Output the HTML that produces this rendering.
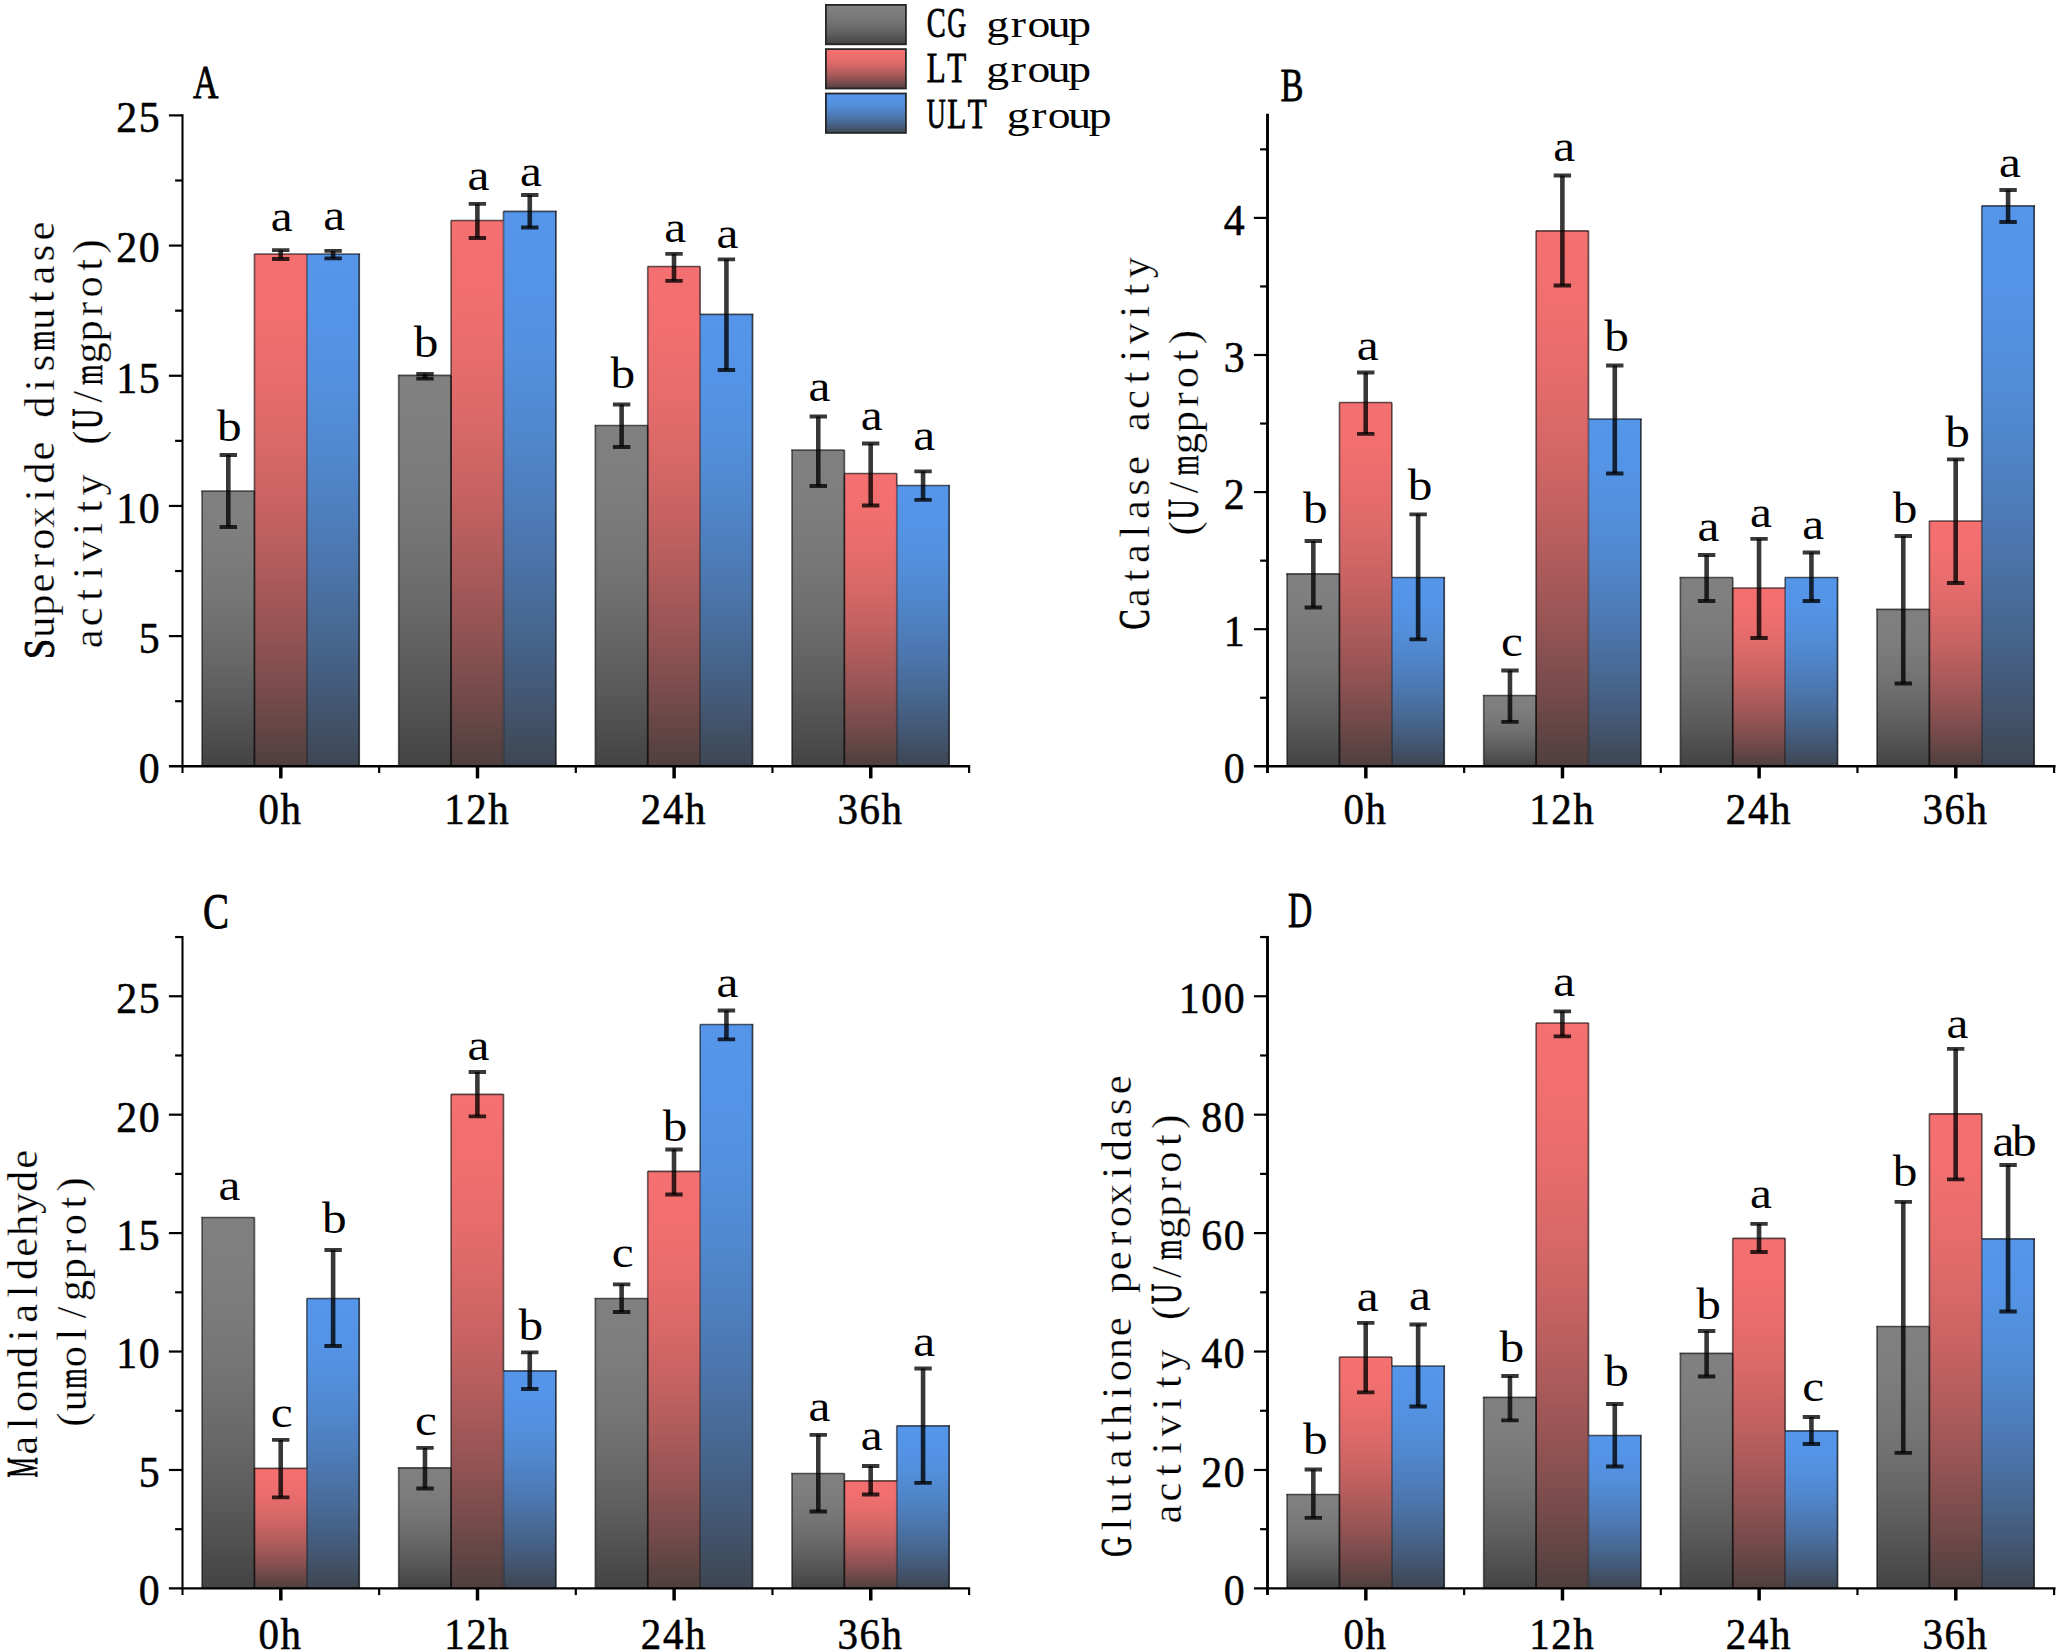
<!DOCTYPE html>
<html><head><meta charset="utf-8"><title>Antioxidant enzyme activity charts</title>
<style>html,body{margin:0;padding:0;background:#fff}svg{display:block}text{font-family:"Liberation Serif", serif;fill:#000}</style></head><body>
<svg width="2061" height="1652" viewBox="0 0 2061 1652">
<rect width="2061" height="1652" fill="#fff"/>
<defs>
<linearGradient id="Gg" x1="0" y1="0" x2="0" y2="1">
<stop offset="0" stop-color="#808080"/>
<stop offset="0.125" stop-color="#7f7f7f"/>
<stop offset="0.25" stop-color="#7b7b7b"/>
<stop offset="0.375" stop-color="#767676"/>
<stop offset="0.5" stop-color="#6f6f6f"/>
<stop offset="0.625" stop-color="#666666"/>
<stop offset="0.75" stop-color="#5c5c5c"/>
<stop offset="0.875" stop-color="#505050"/>
<stop offset="1" stop-color="#434343"/>
</linearGradient>
<linearGradient id="Gr" x1="0" y1="0" x2="0" y2="1">
<stop offset="0" stop-color="#f57070"/>
<stop offset="0.125" stop-color="#f16f6f"/>
<stop offset="0.25" stop-color="#e86c6c"/>
<stop offset="0.375" stop-color="#d96868"/>
<stop offset="0.5" stop-color="#c66262"/>
<stop offset="0.625" stop-color="#ae5b5b"/>
<stop offset="0.75" stop-color="#935353"/>
<stop offset="0.875" stop-color="#734a4a"/>
<stop offset="1" stop-color="#4f3f3f"/>
</linearGradient>
<linearGradient id="Gb" x1="0" y1="0" x2="0" y2="1">
<stop offset="0" stop-color="#5596ea"/>
<stop offset="0.125" stop-color="#5494e7"/>
<stop offset="0.25" stop-color="#5390de"/>
<stop offset="0.375" stop-color="#5189d0"/>
<stop offset="0.5" stop-color="#4e7fbf"/>
<stop offset="0.625" stop-color="#4b74a9"/>
<stop offset="0.75" stop-color="#476790"/>
<stop offset="0.875" stop-color="#435773"/>
<stop offset="1" stop-color="#3e4652"/>
</linearGradient>
</defs>
<g id="panelA">
<rect x="202.03" y="491.00" width="52.40" height="275.30" fill="url(#Gg)"/>
<rect x="254.43" y="254.00" width="52.40" height="512.30" fill="url(#Gr)"/>
<rect x="306.82" y="254.00" width="52.40" height="512.30" fill="url(#Gb)"/>
<rect x="398.68" y="375.40" width="52.40" height="390.90" fill="url(#Gg)"/>
<rect x="451.07" y="220.50" width="52.40" height="545.80" fill="url(#Gr)"/>
<rect x="503.48" y="211.30" width="52.40" height="555.00" fill="url(#Gb)"/>
<rect x="595.32" y="425.50" width="52.40" height="340.80" fill="url(#Gg)"/>
<rect x="647.72" y="266.50" width="52.40" height="499.80" fill="url(#Gr)"/>
<rect x="700.12" y="314.30" width="52.40" height="452.00" fill="url(#Gb)"/>
<rect x="791.97" y="450.00" width="52.40" height="316.30" fill="url(#Gg)"/>
<rect x="844.37" y="473.50" width="52.40" height="292.80" fill="url(#Gr)"/>
<rect x="896.77" y="485.50" width="52.40" height="280.80" fill="url(#Gb)"/>
<g stroke="#000" stroke-width="1.7" fill="none">
<path d="M201.18 491.00H254.43M254.43 254.00H306.82M306.82 254.00H360.07" stroke-opacity="0.62"/>
<path d="M202.03 491.00V766.30" stroke-opacity="0.55"/>
<path d="M359.22 254.00V766.30" stroke-opacity="0.7"/>
<path d="M254.43 491.00V766.30" stroke-opacity="0.8"/>
<path d="M254.43 254.00V491.00" stroke-opacity="0.55"/>
<path d="M306.82 254.00V766.30" stroke-opacity="0.42"/>
<path d="M397.82 375.40H451.07M451.07 220.50H503.48M503.48 211.30H556.73" stroke-opacity="0.62"/>
<path d="M398.68 375.40V766.30" stroke-opacity="0.55"/>
<path d="M555.88 211.30V766.30" stroke-opacity="0.7"/>
<path d="M451.07 375.40V766.30" stroke-opacity="0.8"/>
<path d="M451.07 220.50V375.40" stroke-opacity="0.55"/>
<path d="M503.48 220.50V766.30" stroke-opacity="0.42"/>
<path d="M503.48 211.30V220.50" stroke-opacity="0.55"/>
<path d="M594.47 425.50H647.72M647.72 266.50H700.12M700.12 314.30H753.37" stroke-opacity="0.62"/>
<path d="M595.32 425.50V766.30" stroke-opacity="0.55"/>
<path d="M752.52 314.30V766.30" stroke-opacity="0.7"/>
<path d="M647.72 425.50V766.30" stroke-opacity="0.8"/>
<path d="M647.72 266.50V425.50" stroke-opacity="0.55"/>
<path d="M700.12 314.30V766.30" stroke-opacity="0.42"/>
<path d="M700.12 266.50V314.30" stroke-opacity="0.6"/>
<path d="M791.12 450.00H844.37M844.37 473.50H896.77M896.77 485.50H950.02" stroke-opacity="0.62"/>
<path d="M791.97 450.00V766.30" stroke-opacity="0.55"/>
<path d="M949.17 485.50V766.30" stroke-opacity="0.7"/>
<path d="M844.37 473.50V766.30" stroke-opacity="0.8"/>
<path d="M844.37 450.00V473.50" stroke-opacity="0.6"/>
<path d="M896.77 485.50V766.30" stroke-opacity="0.42"/>
<path d="M896.77 473.50V485.50" stroke-opacity="0.6"/>
</g>
<g stroke="#000" stroke-opacity="0.78" fill="none">
<path d="M228.32 455.00V527.00" stroke-width="4.6"/>
<path d="M219.62 455.00h17.4M219.62 527.00h17.4" stroke-width="3.8"/>
<path d="M280.72 250.20V259.00" stroke-width="4.6"/>
<path d="M272.02 250.20h17.4M272.02 259.00h17.4" stroke-width="3.8"/>
<path d="M333.12 250.80V258.40" stroke-width="4.6"/>
<path d="M324.42 250.80h17.4M324.42 258.40h17.4" stroke-width="3.8"/>
<path d="M424.98 373.80V378.60" stroke-width="4.6"/>
<path d="M416.28 373.80h17.4M416.28 378.60h17.4" stroke-width="3.8"/>
<path d="M477.38 203.80V238.00" stroke-width="4.6"/>
<path d="M468.68 203.80h17.4M468.68 238.00h17.4" stroke-width="3.8"/>
<path d="M529.77 195.00V227.50" stroke-width="4.6"/>
<path d="M521.07 195.00h17.4M521.07 227.50h17.4" stroke-width="3.8"/>
<path d="M621.62 404.50V447.00" stroke-width="4.6"/>
<path d="M612.92 404.50h17.4M612.92 447.00h17.4" stroke-width="3.8"/>
<path d="M674.02 253.80V280.80" stroke-width="4.6"/>
<path d="M665.32 253.80h17.4M665.32 280.80h17.4" stroke-width="3.8"/>
<path d="M726.42 259.30V370.00" stroke-width="4.6"/>
<path d="M717.72 259.30h17.4M717.72 370.00h17.4" stroke-width="3.8"/>
<path d="M818.27 416.50V486.00" stroke-width="4.6"/>
<path d="M809.57 416.50h17.4M809.57 486.00h17.4" stroke-width="3.8"/>
<path d="M870.67 443.50V505.50" stroke-width="4.6"/>
<path d="M861.97 443.50h17.4M861.97 505.50h17.4" stroke-width="3.8"/>
<path d="M923.07 471.30V499.80" stroke-width="4.6"/>
<path d="M914.37 471.30h17.4M914.37 499.80h17.4" stroke-width="3.8"/>
</g>
<g stroke="#000" stroke-width="2.10" fill="none">
<path d="M182.50 114.30V773.00"/>
<path d="M168.90 766.30H970.15" stroke-width="2.50"/>
<path d="M168.90 636.12H182.50" stroke-width="2.2"/>
<path d="M168.90 505.94H182.50" stroke-width="2.2"/>
<path d="M168.90 375.76H182.50" stroke-width="2.2"/>
<path d="M168.90 245.58H182.50" stroke-width="2.2"/>
<path d="M168.90 115.40H182.50" stroke-width="2.2"/>
<path d="M175.10 701.21H182.50" stroke-width="2.2"/>
<path d="M175.10 571.03H182.50" stroke-width="2.2"/>
<path d="M175.10 440.85H182.50" stroke-width="2.2"/>
<path d="M175.10 310.67H182.50" stroke-width="2.2"/>
<path d="M175.10 180.49H182.50" stroke-width="2.2"/>
<path d="M280.82 766.30V778.40" stroke-width="3.5"/>
<path d="M379.15 766.30V773.00" stroke-width="2.2"/>
<path d="M477.48 766.30V778.40" stroke-width="3.5"/>
<path d="M575.80 766.30V773.00" stroke-width="2.2"/>
<path d="M674.12 766.30V778.40" stroke-width="3.5"/>
<path d="M772.45 766.30V773.00" stroke-width="2.2"/>
<path d="M870.77 766.30V778.40" stroke-width="3.5"/>
<path d="M969.10 766.30V773.00" stroke-width="2.2"/>
</g>
<text font-size="45" text-anchor="end" letter-spacing="1.7" stroke="#000" stroke-width="0.55" transform="translate(161.30,783.20) scale(0.93,1)">0</text>
<text font-size="45" text-anchor="end" letter-spacing="1.7" stroke="#000" stroke-width="0.55" transform="translate(161.30,653.02) scale(0.93,1)">5</text>
<text font-size="45" text-anchor="end" letter-spacing="1.7" stroke="#000" stroke-width="0.55" transform="translate(161.30,522.84) scale(0.93,1)">10</text>
<text font-size="45" text-anchor="end" letter-spacing="1.7" stroke="#000" stroke-width="0.55" transform="translate(161.30,392.66) scale(0.93,1)">15</text>
<text font-size="45" text-anchor="end" letter-spacing="1.7" stroke="#000" stroke-width="0.55" transform="translate(161.30,262.48) scale(0.93,1)">20</text>
<text font-size="45" text-anchor="end" letter-spacing="1.7" stroke="#000" stroke-width="0.55" transform="translate(161.30,132.30) scale(0.93,1)">25</text>
<text font-size="44" text-anchor="middle" letter-spacing="1.7" stroke="#000" stroke-width="0.55" transform="translate(280.62,824.25) scale(0.93,1)">0h</text>
<text font-size="44" text-anchor="middle" letter-spacing="1.7" stroke="#000" stroke-width="0.55" transform="translate(477.28,824.25) scale(0.93,1)">12h</text>
<text font-size="44" text-anchor="middle" letter-spacing="1.7" stroke="#000" stroke-width="0.55" transform="translate(673.92,824.25) scale(0.93,1)">24h</text>
<text font-size="44" text-anchor="middle" letter-spacing="1.7" stroke="#000" stroke-width="0.55" transform="translate(870.57,824.25) scale(0.93,1)">36h</text>
<text transform="translate(218.42,440.80) scale(1.12,1)" font-size="44" text-anchor="middle" x="9.8" y="0">b</text>
<text transform="translate(270.82,230.80) scale(1.12,1)" font-size="44" text-anchor="middle" x="9.8" y="0">a</text>
<text transform="translate(323.22,230.10) scale(1.12,1)" font-size="44" text-anchor="middle" x="9.8" y="0">a</text>
<text transform="translate(415.08,357.10) scale(1.12,1)" font-size="44" text-anchor="middle" x="9.8" y="0">b</text>
<text transform="translate(467.48,189.60) scale(1.12,1)" font-size="44" text-anchor="middle" x="9.8" y="0">a</text>
<text transform="translate(519.88,185.80) scale(1.12,1)" font-size="44" text-anchor="middle" x="9.8" y="0">a</text>
<text transform="translate(611.73,388.30) scale(1.12,1)" font-size="44" text-anchor="middle" x="9.8" y="0">b</text>
<text transform="translate(664.12,242.10) scale(1.12,1)" font-size="44" text-anchor="middle" x="9.8" y="0">a</text>
<text transform="translate(716.52,247.80) scale(1.12,1)" font-size="44" text-anchor="middle" x="9.8" y="0">a</text>
<text transform="translate(808.38,401.30) scale(1.12,1)" font-size="44" text-anchor="middle" x="9.8" y="0">a</text>
<text transform="translate(860.77,429.80) scale(1.12,1)" font-size="44" text-anchor="middle" x="9.8" y="0">a</text>
<text transform="translate(913.17,449.80) scale(1.12,1)" font-size="44" text-anchor="middle" x="9.8" y="0">a</text>
<text font-size="47" x="193.00" y="97.50" textLength="25.5" lengthAdjust="spacingAndGlyphs" stroke="#000" stroke-width="0.8">A</text>
<text transform="translate(53.50,660.00) rotate(-90) scale(1,1)" font-size="42.5" text-anchor="middle" x="11.0 33.0 55.0 77.0 99.0 121.0 143.0 165.0 187.0 209.0 231.0 253.0 275.0 297.0 319.0 341.0 363.0 385.0 407.0 429.0" y="0" stroke="#fff" stroke-width="0.3"><tspan font-size="44" textLength="20.2" lengthAdjust="spacingAndGlyphs" stroke="#000" stroke-width="0.90">S</tspan>uperoxide dis<tspan textLength="20.2" lengthAdjust="spacingAndGlyphs" stroke="#000" stroke-width="0.50">m</tspan>utase</text>
<text transform="translate(101.90,649.80) rotate(-90) scale(1,1)" font-size="42.5" text-anchor="middle" x="11.0 33.0 55.0 77.0 99.0 121.0 143.0 165.0 187.0 212.1 231.0 253.0 275.0 297.0 319.0 341.0 363.0 385.0 403.4" y="0" stroke="#fff" stroke-width="0.3">activity (<tspan font-size="44" textLength="20.2" lengthAdjust="spacingAndGlyphs" stroke="#000" stroke-width="0.90">U</tspan>/<tspan textLength="20.2" lengthAdjust="spacingAndGlyphs" stroke="#000" stroke-width="0.50">m</tspan>gprot)</text>
</g>
<g id="panelB">
<rect x="1287.03" y="573.80" width="52.40" height="192.50" fill="url(#Gg)"/>
<rect x="1339.43" y="402.50" width="52.40" height="363.80" fill="url(#Gr)"/>
<rect x="1391.83" y="577.50" width="52.40" height="188.80" fill="url(#Gb)"/>
<rect x="1483.67" y="695.50" width="52.40" height="70.80" fill="url(#Gg)"/>
<rect x="1536.08" y="230.80" width="52.40" height="535.50" fill="url(#Gr)"/>
<rect x="1588.47" y="419.00" width="52.40" height="347.30" fill="url(#Gb)"/>
<rect x="1680.33" y="577.50" width="52.40" height="188.80" fill="url(#Gg)"/>
<rect x="1732.73" y="588.00" width="52.40" height="178.30" fill="url(#Gr)"/>
<rect x="1785.12" y="577.50" width="52.40" height="188.80" fill="url(#Gb)"/>
<rect x="1876.98" y="609.30" width="52.40" height="157.00" fill="url(#Gg)"/>
<rect x="1929.38" y="521.00" width="52.40" height="245.30" fill="url(#Gr)"/>
<rect x="1981.78" y="205.80" width="52.40" height="560.50" fill="url(#Gb)"/>
<g stroke="#000" stroke-width="1.7" fill="none">
<path d="M1286.18 573.80H1339.43M1339.43 402.50H1391.83M1391.83 577.50H1445.08" stroke-opacity="0.62"/>
<path d="M1287.03 573.80V766.30" stroke-opacity="0.55"/>
<path d="M1444.23 577.50V766.30" stroke-opacity="0.7"/>
<path d="M1339.43 573.80V766.30" stroke-opacity="0.8"/>
<path d="M1339.43 402.50V573.80" stroke-opacity="0.55"/>
<path d="M1391.83 577.50V766.30" stroke-opacity="0.42"/>
<path d="M1391.83 402.50V577.50" stroke-opacity="0.6"/>
<path d="M1482.83 695.50H1536.08M1536.08 230.80H1588.47M1588.47 419.00H1641.72" stroke-opacity="0.62"/>
<path d="M1483.67 695.50V766.30" stroke-opacity="0.55"/>
<path d="M1640.88 419.00V766.30" stroke-opacity="0.7"/>
<path d="M1536.08 695.50V766.30" stroke-opacity="0.8"/>
<path d="M1536.08 230.80V695.50" stroke-opacity="0.55"/>
<path d="M1588.47 419.00V766.30" stroke-opacity="0.42"/>
<path d="M1588.47 230.80V419.00" stroke-opacity="0.6"/>
<path d="M1679.48 577.50H1732.73M1732.73 588.00H1785.12M1785.12 577.50H1838.38" stroke-opacity="0.62"/>
<path d="M1680.33 577.50V766.30" stroke-opacity="0.55"/>
<path d="M1837.53 577.50V766.30" stroke-opacity="0.7"/>
<path d="M1732.73 588.00V766.30" stroke-opacity="0.8"/>
<path d="M1732.73 577.50V588.00" stroke-opacity="0.6"/>
<path d="M1785.12 588.00V766.30" stroke-opacity="0.42"/>
<path d="M1785.12 577.50V588.00" stroke-opacity="0.55"/>
<path d="M1876.13 609.30H1929.38M1929.38 521.00H1981.78M1981.78 205.80H2035.03" stroke-opacity="0.62"/>
<path d="M1876.98 609.30V766.30" stroke-opacity="0.55"/>
<path d="M2034.18 205.80V766.30" stroke-opacity="0.7"/>
<path d="M1929.38 609.30V766.30" stroke-opacity="0.8"/>
<path d="M1929.38 521.00V609.30" stroke-opacity="0.55"/>
<path d="M1981.78 521.00V766.30" stroke-opacity="0.42"/>
<path d="M1981.78 205.80V521.00" stroke-opacity="0.55"/>
</g>
<g stroke="#000" stroke-opacity="0.78" fill="none">
<path d="M1313.33 541.00V607.50" stroke-width="4.6"/>
<path d="M1304.62 541.00h17.4M1304.62 607.50h17.4" stroke-width="3.8"/>
<path d="M1365.73 372.50V433.80" stroke-width="4.6"/>
<path d="M1357.03 372.50h17.4M1357.03 433.80h17.4" stroke-width="3.8"/>
<path d="M1418.13 514.30V639.30" stroke-width="4.6"/>
<path d="M1409.43 514.30h17.4M1409.43 639.30h17.4" stroke-width="3.8"/>
<path d="M1509.97 670.50V721.80" stroke-width="4.6"/>
<path d="M1501.27 670.50h17.4M1501.27 721.80h17.4" stroke-width="3.8"/>
<path d="M1562.38 175.50V285.50" stroke-width="4.6"/>
<path d="M1553.67 175.50h17.4M1553.67 285.50h17.4" stroke-width="3.8"/>
<path d="M1614.78 365.50V473.50" stroke-width="4.6"/>
<path d="M1606.08 365.50h17.4M1606.08 473.50h17.4" stroke-width="3.8"/>
<path d="M1706.62 555.00V601.00" stroke-width="4.6"/>
<path d="M1697.92 555.00h17.4M1697.92 601.00h17.4" stroke-width="3.8"/>
<path d="M1759.03 538.80V638.00" stroke-width="4.6"/>
<path d="M1750.33 538.80h17.4M1750.33 638.00h17.4" stroke-width="3.8"/>
<path d="M1811.43 552.50V601.00" stroke-width="4.6"/>
<path d="M1802.73 552.50h17.4M1802.73 601.00h17.4" stroke-width="3.8"/>
<path d="M1903.28 536.00V683.50" stroke-width="4.6"/>
<path d="M1894.58 536.00h17.4M1894.58 683.50h17.4" stroke-width="3.8"/>
<path d="M1955.68 459.30V583.00" stroke-width="4.6"/>
<path d="M1946.98 459.30h17.4M1946.98 583.00h17.4" stroke-width="3.8"/>
<path d="M2008.08 190.00V222.00" stroke-width="4.6"/>
<path d="M1999.38 190.00h17.4M1999.38 222.00h17.4" stroke-width="3.8"/>
</g>
<g stroke="#000" stroke-width="2.90" fill="none">
<path d="M1267.50 113.80V773.00"/>
<path d="M1253.90 766.30H2055.55" stroke-width="2.50"/>
<path d="M1253.90 629.20H1267.50" stroke-width="2.2"/>
<path d="M1253.90 492.10H1267.50" stroke-width="2.2"/>
<path d="M1253.90 355.00H1267.50" stroke-width="2.2"/>
<path d="M1253.90 217.90H1267.50" stroke-width="2.2"/>
<path d="M1260.10 697.75H1267.50" stroke-width="2.2"/>
<path d="M1260.10 560.65H1267.50" stroke-width="2.2"/>
<path d="M1260.10 423.55H1267.50" stroke-width="2.2"/>
<path d="M1260.10 286.45H1267.50" stroke-width="2.2"/>
<path d="M1260.10 149.35H1267.50" stroke-width="2.2"/>
<path d="M1365.83 766.30V778.40" stroke-width="3.5"/>
<path d="M1464.15 766.30V773.00" stroke-width="2.2"/>
<path d="M1562.47 766.30V778.40" stroke-width="3.5"/>
<path d="M1660.80 766.30V773.00" stroke-width="2.2"/>
<path d="M1759.12 766.30V778.40" stroke-width="3.5"/>
<path d="M1857.45 766.30V773.00" stroke-width="2.2"/>
<path d="M1955.78 766.30V778.40" stroke-width="3.5"/>
<path d="M2054.10 766.30V773.00" stroke-width="2.2"/>
</g>
<text font-size="45" text-anchor="end" letter-spacing="1.7" stroke="#000" stroke-width="0.55" transform="translate(1246.30,783.20) scale(0.93,1)">0</text>
<text font-size="45" text-anchor="end" letter-spacing="1.7" stroke="#000" stroke-width="0.55" transform="translate(1246.30,646.10) scale(0.93,1)">1</text>
<text font-size="45" text-anchor="end" letter-spacing="1.7" stroke="#000" stroke-width="0.55" transform="translate(1246.30,509.00) scale(0.93,1)">2</text>
<text font-size="45" text-anchor="end" letter-spacing="1.7" stroke="#000" stroke-width="0.55" transform="translate(1246.30,371.90) scale(0.93,1)">3</text>
<text font-size="45" text-anchor="end" letter-spacing="1.7" stroke="#000" stroke-width="0.55" transform="translate(1246.30,234.80) scale(0.93,1)">4</text>
<text font-size="44" text-anchor="middle" letter-spacing="1.7" stroke="#000" stroke-width="0.55" transform="translate(1365.62,824.25) scale(0.93,1)">0h</text>
<text font-size="44" text-anchor="middle" letter-spacing="1.7" stroke="#000" stroke-width="0.55" transform="translate(1562.27,824.25) scale(0.93,1)">12h</text>
<text font-size="44" text-anchor="middle" letter-spacing="1.7" stroke="#000" stroke-width="0.55" transform="translate(1758.92,824.25) scale(0.93,1)">24h</text>
<text font-size="44" text-anchor="middle" letter-spacing="1.7" stroke="#000" stroke-width="0.55" transform="translate(1955.58,824.25) scale(0.93,1)">36h</text>
<text transform="translate(1304.22,523.30) scale(1.12,1)" font-size="44" text-anchor="middle" x="9.8" y="0">b</text>
<text transform="translate(1356.62,360.30) scale(1.12,1)" font-size="44" text-anchor="middle" x="9.8" y="0">a</text>
<text transform="translate(1409.03,500.10) scale(1.12,1)" font-size="44" text-anchor="middle" x="9.8" y="0">b</text>
<text transform="translate(1500.87,656.30) scale(1.12,1)" font-size="44" text-anchor="middle" x="9.8" y="0">c</text>
<text transform="translate(1553.27,161.30) scale(1.12,1)" font-size="44" text-anchor="middle" x="9.8" y="0">a</text>
<text transform="translate(1605.67,351.30) scale(1.12,1)" font-size="44" text-anchor="middle" x="9.8" y="0">b</text>
<text transform="translate(1697.52,540.80) scale(1.12,1)" font-size="44" text-anchor="middle" x="9.8" y="0">a</text>
<text transform="translate(1749.92,526.80) scale(1.12,1)" font-size="44" text-anchor="middle" x="9.8" y="0">a</text>
<text transform="translate(1802.33,538.80) scale(1.12,1)" font-size="44" text-anchor="middle" x="9.8" y="0">a</text>
<text transform="translate(1894.17,523.30) scale(1.12,1)" font-size="44" text-anchor="middle" x="9.8" y="0">b</text>
<text transform="translate(1946.58,447.30) scale(1.12,1)" font-size="44" text-anchor="middle" x="9.8" y="0">b</text>
<text transform="translate(1998.98,177.10) scale(1.12,1)" font-size="44" text-anchor="middle" x="9.8" y="0">a</text>
<text font-size="46" x="1280.50" y="101.25" textLength="23" lengthAdjust="spacingAndGlyphs" stroke="#000" stroke-width="0.8">B</text>
<text transform="translate(1149.20,630.50) rotate(-90) scale(1,1)" font-size="42.5" text-anchor="middle" x="11.0 33.0 55.0 77.0 99.0 121.0 143.0 165.0 187.0 209.0 231.0 253.0 275.0 297.0 319.0 341.0 363.0" y="0" stroke="#fff" stroke-width="0.3"><tspan font-size="44" textLength="20.2" lengthAdjust="spacingAndGlyphs" stroke="#000" stroke-width="0.90">C</tspan>atalase activity</text>
<text transform="translate(1197.50,542.50) rotate(-90) scale(1,1)" font-size="42.5" text-anchor="middle" x="14.1 33.0 55.0 77.0 99.0 121.0 143.0 165.0 187.0 205.4" y="0" stroke="#fff" stroke-width="0.3">(<tspan font-size="44" textLength="20.2" lengthAdjust="spacingAndGlyphs" stroke="#000" stroke-width="0.90">U</tspan>/<tspan textLength="20.2" lengthAdjust="spacingAndGlyphs" stroke="#000" stroke-width="0.50">m</tspan>gprot)</text>
</g>
<g id="panelC">
<rect x="202.03" y="1217.50" width="52.40" height="370.90" fill="url(#Gg)"/>
<rect x="254.43" y="1468.30" width="52.40" height="120.10" fill="url(#Gr)"/>
<rect x="306.82" y="1298.50" width="52.40" height="289.90" fill="url(#Gb)"/>
<rect x="398.68" y="1467.80" width="52.40" height="120.60" fill="url(#Gg)"/>
<rect x="451.07" y="1094.30" width="52.40" height="494.10" fill="url(#Gr)"/>
<rect x="503.48" y="1370.80" width="52.40" height="217.60" fill="url(#Gb)"/>
<rect x="595.32" y="1298.50" width="52.40" height="289.90" fill="url(#Gg)"/>
<rect x="647.72" y="1171.30" width="52.40" height="417.10" fill="url(#Gr)"/>
<rect x="700.12" y="1024.50" width="52.40" height="563.90" fill="url(#Gb)"/>
<rect x="791.97" y="1473.50" width="52.40" height="114.90" fill="url(#Gg)"/>
<rect x="844.37" y="1480.80" width="52.40" height="107.60" fill="url(#Gr)"/>
<rect x="896.77" y="1425.80" width="52.40" height="162.60" fill="url(#Gb)"/>
<g stroke="#000" stroke-width="1.7" fill="none">
<path d="M201.18 1217.50H254.43M254.43 1468.30H306.82M306.82 1298.50H360.07" stroke-opacity="0.62"/>
<path d="M202.03 1217.50V1588.40" stroke-opacity="0.55"/>
<path d="M359.22 1298.50V1588.40" stroke-opacity="0.7"/>
<path d="M254.43 1468.30V1588.40" stroke-opacity="0.8"/>
<path d="M254.43 1217.50V1468.30" stroke-opacity="0.6"/>
<path d="M306.82 1468.30V1588.40" stroke-opacity="0.42"/>
<path d="M306.82 1298.50V1468.30" stroke-opacity="0.55"/>
<path d="M397.82 1467.80H451.07M451.07 1094.30H503.48M503.48 1370.80H556.73" stroke-opacity="0.62"/>
<path d="M398.68 1467.80V1588.40" stroke-opacity="0.55"/>
<path d="M555.88 1370.80V1588.40" stroke-opacity="0.7"/>
<path d="M451.07 1467.80V1588.40" stroke-opacity="0.8"/>
<path d="M451.07 1094.30V1467.80" stroke-opacity="0.55"/>
<path d="M503.48 1370.80V1588.40" stroke-opacity="0.42"/>
<path d="M503.48 1094.30V1370.80" stroke-opacity="0.6"/>
<path d="M594.47 1298.50H647.72M647.72 1171.30H700.12M700.12 1024.50H753.37" stroke-opacity="0.62"/>
<path d="M595.32 1298.50V1588.40" stroke-opacity="0.55"/>
<path d="M752.52 1024.50V1588.40" stroke-opacity="0.7"/>
<path d="M647.72 1298.50V1588.40" stroke-opacity="0.8"/>
<path d="M647.72 1171.30V1298.50" stroke-opacity="0.55"/>
<path d="M700.12 1171.30V1588.40" stroke-opacity="0.42"/>
<path d="M700.12 1024.50V1171.30" stroke-opacity="0.55"/>
<path d="M791.12 1473.50H844.37M844.37 1480.80H896.77M896.77 1425.80H950.02" stroke-opacity="0.62"/>
<path d="M791.97 1473.50V1588.40" stroke-opacity="0.55"/>
<path d="M949.17 1425.80V1588.40" stroke-opacity="0.7"/>
<path d="M844.37 1480.80V1588.40" stroke-opacity="0.8"/>
<path d="M844.37 1473.50V1480.80" stroke-opacity="0.6"/>
<path d="M896.77 1480.80V1588.40" stroke-opacity="0.42"/>
<path d="M896.77 1425.80V1480.80" stroke-opacity="0.55"/>
</g>
<g stroke="#000" stroke-opacity="0.78" fill="none">
<path d="M280.72 1439.80V1497.30" stroke-width="4.6"/>
<path d="M272.02 1439.80h17.4M272.02 1497.30h17.4" stroke-width="3.8"/>
<path d="M333.12 1250.00V1346.00" stroke-width="4.6"/>
<path d="M324.42 1250.00h17.4M324.42 1346.00h17.4" stroke-width="3.8"/>
<path d="M424.98 1447.80V1488.50" stroke-width="4.6"/>
<path d="M416.28 1447.80h17.4M416.28 1488.50h17.4" stroke-width="3.8"/>
<path d="M477.38 1072.00V1116.30" stroke-width="4.6"/>
<path d="M468.68 1072.00h17.4M468.68 1116.30h17.4" stroke-width="3.8"/>
<path d="M529.77 1352.30V1389.00" stroke-width="4.6"/>
<path d="M521.07 1352.30h17.4M521.07 1389.00h17.4" stroke-width="3.8"/>
<path d="M621.62 1284.30V1312.00" stroke-width="4.6"/>
<path d="M612.92 1284.30h17.4M612.92 1312.00h17.4" stroke-width="3.8"/>
<path d="M674.02 1149.50V1194.50" stroke-width="4.6"/>
<path d="M665.32 1149.50h17.4M665.32 1194.50h17.4" stroke-width="3.8"/>
<path d="M726.42 1010.50V1039.30" stroke-width="4.6"/>
<path d="M717.72 1010.50h17.4M717.72 1039.30h17.4" stroke-width="3.8"/>
<path d="M818.27 1434.80V1511.50" stroke-width="4.6"/>
<path d="M809.57 1434.80h17.4M809.57 1511.50h17.4" stroke-width="3.8"/>
<path d="M870.67 1466.00V1494.50" stroke-width="4.6"/>
<path d="M861.97 1466.00h17.4M861.97 1494.50h17.4" stroke-width="3.8"/>
<path d="M923.07 1368.50V1482.80" stroke-width="4.6"/>
<path d="M914.37 1368.50h17.4M914.37 1482.80h17.4" stroke-width="3.8"/>
</g>
<g stroke="#000" stroke-width="2.10" fill="none">
<path d="M182.50 936.00V1595.10"/>
<path d="M168.90 1588.40H970.15" stroke-width="2.10"/>
<path d="M168.90 1469.97H182.50" stroke-width="2.2"/>
<path d="M168.90 1351.54H182.50" stroke-width="2.2"/>
<path d="M168.90 1233.11H182.50" stroke-width="2.2"/>
<path d="M168.90 1114.68H182.50" stroke-width="2.2"/>
<path d="M168.90 996.25H182.50" stroke-width="2.2"/>
<path d="M175.10 1529.19H182.50" stroke-width="2.2"/>
<path d="M175.10 1410.76H182.50" stroke-width="2.2"/>
<path d="M175.10 1292.33H182.50" stroke-width="2.2"/>
<path d="M175.10 1173.89H182.50" stroke-width="2.2"/>
<path d="M175.10 1055.47H182.50" stroke-width="2.2"/>
<path d="M175.10 937.04H182.50" stroke-width="2.2"/>
<path d="M280.82 1588.40V1600.50" stroke-width="3.5"/>
<path d="M379.15 1588.40V1595.10" stroke-width="2.2"/>
<path d="M477.48 1588.40V1600.50" stroke-width="3.5"/>
<path d="M575.80 1588.40V1595.10" stroke-width="2.2"/>
<path d="M674.12 1588.40V1600.50" stroke-width="3.5"/>
<path d="M772.45 1588.40V1595.10" stroke-width="2.2"/>
<path d="M870.77 1588.40V1600.50" stroke-width="3.5"/>
<path d="M969.10 1588.40V1595.10" stroke-width="2.2"/>
</g>
<text font-size="45" text-anchor="end" letter-spacing="1.7" stroke="#000" stroke-width="0.55" transform="translate(161.30,1605.30) scale(0.93,1)">0</text>
<text font-size="45" text-anchor="end" letter-spacing="1.7" stroke="#000" stroke-width="0.55" transform="translate(161.30,1486.87) scale(0.93,1)">5</text>
<text font-size="45" text-anchor="end" letter-spacing="1.7" stroke="#000" stroke-width="0.55" transform="translate(161.30,1368.44) scale(0.93,1)">10</text>
<text font-size="45" text-anchor="end" letter-spacing="1.7" stroke="#000" stroke-width="0.55" transform="translate(161.30,1250.01) scale(0.93,1)">15</text>
<text font-size="45" text-anchor="end" letter-spacing="1.7" stroke="#000" stroke-width="0.55" transform="translate(161.30,1131.58) scale(0.93,1)">20</text>
<text font-size="45" text-anchor="end" letter-spacing="1.7" stroke="#000" stroke-width="0.55" transform="translate(161.30,1013.15) scale(0.93,1)">25</text>
<text font-size="44" text-anchor="middle" letter-spacing="1.7" stroke="#000" stroke-width="0.55" transform="translate(280.62,1649.00) scale(0.93,1)">0h</text>
<text font-size="44" text-anchor="middle" letter-spacing="1.7" stroke="#000" stroke-width="0.55" transform="translate(477.28,1649.00) scale(0.93,1)">12h</text>
<text font-size="44" text-anchor="middle" letter-spacing="1.7" stroke="#000" stroke-width="0.55" transform="translate(673.92,1649.00) scale(0.93,1)">24h</text>
<text font-size="44" text-anchor="middle" letter-spacing="1.7" stroke="#000" stroke-width="0.55" transform="translate(870.57,1649.00) scale(0.93,1)">36h</text>
<text transform="translate(218.42,1200.30) scale(1.12,1)" font-size="44" text-anchor="middle" x="9.8" y="0">a</text>
<text transform="translate(270.82,1426.80) scale(1.12,1)" font-size="44" text-anchor="middle" x="9.8" y="0">c</text>
<text transform="translate(323.22,1232.80) scale(1.12,1)" font-size="44" text-anchor="middle" x="9.8" y="0">b</text>
<text transform="translate(415.08,1434.80) scale(1.12,1)" font-size="44" text-anchor="middle" x="9.8" y="0">c</text>
<text transform="translate(467.48,1059.60) scale(1.12,1)" font-size="44" text-anchor="middle" x="9.8" y="0">a</text>
<text transform="translate(519.88,1339.80) scale(1.12,1)" font-size="44" text-anchor="middle" x="9.8" y="0">b</text>
<text transform="translate(611.73,1266.80) scale(1.12,1)" font-size="44" text-anchor="middle" x="9.8" y="0">c</text>
<text transform="translate(664.12,1140.80) scale(1.12,1)" font-size="44" text-anchor="middle" x="9.8" y="0">b</text>
<text transform="translate(716.52,997.10) scale(1.12,1)" font-size="44" text-anchor="middle" x="9.8" y="0">a</text>
<text transform="translate(808.38,1421.10) scale(1.12,1)" font-size="44" text-anchor="middle" x="9.8" y="0">a</text>
<text transform="translate(860.77,1449.80) scale(1.12,1)" font-size="44" text-anchor="middle" x="9.8" y="0">a</text>
<text transform="translate(913.17,1356.10) scale(1.12,1)" font-size="44" text-anchor="middle" x="9.8" y="0">a</text>
<text font-size="50" x="203.00" y="928.00" textLength="26" lengthAdjust="spacingAndGlyphs" stroke="#000" stroke-width="0.8">C</text>
<text transform="translate(36.60,1478.40) rotate(-90) scale(1,1)" font-size="42.5" text-anchor="middle" x="11.0 33.0 55.0 77.0 99.0 121.0 143.0 165.0 187.0 209.0 231.0 253.0 275.0 297.0 319.0" y="0" stroke="#fff" stroke-width="0.3"><tspan font-size="44" textLength="20.2" lengthAdjust="spacingAndGlyphs" stroke="#000" stroke-width="0.90">M</tspan>alondialdehyde</text>
<text transform="translate(86.00,1433.70) rotate(-90) scale(1,1)" font-size="42.5" text-anchor="middle" x="14.1 33.0 55.0 77.0 99.0 121.0 143.0 165.0 187.0 209.0 231.0 249.4" y="0" stroke="#fff" stroke-width="0.3">(u<tspan textLength="20.2" lengthAdjust="spacingAndGlyphs" stroke="#000" stroke-width="0.50">m</tspan>ol/gprot)</text>
</g>
<g id="panelD">
<rect x="1287.03" y="1494.50" width="52.40" height="93.90" fill="url(#Gg)"/>
<rect x="1339.43" y="1357.00" width="52.40" height="231.40" fill="url(#Gr)"/>
<rect x="1391.83" y="1366.00" width="52.40" height="222.40" fill="url(#Gb)"/>
<rect x="1483.67" y="1397.30" width="52.40" height="191.10" fill="url(#Gg)"/>
<rect x="1536.08" y="1023.00" width="52.40" height="565.40" fill="url(#Gr)"/>
<rect x="1588.47" y="1435.50" width="52.40" height="152.90" fill="url(#Gb)"/>
<rect x="1680.33" y="1353.30" width="52.40" height="235.10" fill="url(#Gg)"/>
<rect x="1732.73" y="1238.30" width="52.40" height="350.10" fill="url(#Gr)"/>
<rect x="1785.12" y="1430.80" width="52.40" height="157.60" fill="url(#Gb)"/>
<rect x="1876.98" y="1326.50" width="52.40" height="261.90" fill="url(#Gg)"/>
<rect x="1929.38" y="1113.80" width="52.40" height="474.60" fill="url(#Gr)"/>
<rect x="1981.78" y="1238.80" width="52.40" height="349.60" fill="url(#Gb)"/>
<g stroke="#000" stroke-width="1.7" fill="none">
<path d="M1286.18 1494.50H1339.43M1339.43 1357.00H1391.83M1391.83 1366.00H1445.08" stroke-opacity="0.62"/>
<path d="M1287.03 1494.50V1588.40" stroke-opacity="0.55"/>
<path d="M1444.23 1366.00V1588.40" stroke-opacity="0.7"/>
<path d="M1339.43 1494.50V1588.40" stroke-opacity="0.8"/>
<path d="M1339.43 1357.00V1494.50" stroke-opacity="0.55"/>
<path d="M1391.83 1366.00V1588.40" stroke-opacity="0.42"/>
<path d="M1391.83 1357.00V1366.00" stroke-opacity="0.6"/>
<path d="M1482.83 1397.30H1536.08M1536.08 1023.00H1588.47M1588.47 1435.50H1641.72" stroke-opacity="0.62"/>
<path d="M1483.67 1397.30V1588.40" stroke-opacity="0.55"/>
<path d="M1640.88 1435.50V1588.40" stroke-opacity="0.7"/>
<path d="M1536.08 1397.30V1588.40" stroke-opacity="0.8"/>
<path d="M1536.08 1023.00V1397.30" stroke-opacity="0.55"/>
<path d="M1588.47 1435.50V1588.40" stroke-opacity="0.42"/>
<path d="M1588.47 1023.00V1435.50" stroke-opacity="0.6"/>
<path d="M1679.48 1353.30H1732.73M1732.73 1238.30H1785.12M1785.12 1430.80H1838.38" stroke-opacity="0.62"/>
<path d="M1680.33 1353.30V1588.40" stroke-opacity="0.55"/>
<path d="M1837.53 1430.80V1588.40" stroke-opacity="0.7"/>
<path d="M1732.73 1353.30V1588.40" stroke-opacity="0.8"/>
<path d="M1732.73 1238.30V1353.30" stroke-opacity="0.55"/>
<path d="M1785.12 1430.80V1588.40" stroke-opacity="0.42"/>
<path d="M1785.12 1238.30V1430.80" stroke-opacity="0.6"/>
<path d="M1876.13 1326.50H1929.38M1929.38 1113.80H1981.78M1981.78 1238.80H2035.03" stroke-opacity="0.62"/>
<path d="M1876.98 1326.50V1588.40" stroke-opacity="0.55"/>
<path d="M2034.18 1238.80V1588.40" stroke-opacity="0.7"/>
<path d="M1929.38 1326.50V1588.40" stroke-opacity="0.8"/>
<path d="M1929.38 1113.80V1326.50" stroke-opacity="0.55"/>
<path d="M1981.78 1238.80V1588.40" stroke-opacity="0.42"/>
<path d="M1981.78 1113.80V1238.80" stroke-opacity="0.6"/>
</g>
<g stroke="#000" stroke-opacity="0.78" fill="none">
<path d="M1313.33 1469.50V1517.80" stroke-width="4.6"/>
<path d="M1304.62 1469.50h17.4M1304.62 1517.80h17.4" stroke-width="3.8"/>
<path d="M1365.73 1322.80V1392.30" stroke-width="4.6"/>
<path d="M1357.03 1322.80h17.4M1357.03 1392.30h17.4" stroke-width="3.8"/>
<path d="M1418.13 1324.50V1406.50" stroke-width="4.6"/>
<path d="M1409.43 1324.50h17.4M1409.43 1406.50h17.4" stroke-width="3.8"/>
<path d="M1509.97 1376.00V1420.30" stroke-width="4.6"/>
<path d="M1501.27 1376.00h17.4M1501.27 1420.30h17.4" stroke-width="3.8"/>
<path d="M1562.38 1011.30V1036.30" stroke-width="4.6"/>
<path d="M1553.67 1011.30h17.4M1553.67 1036.30h17.4" stroke-width="3.8"/>
<path d="M1614.78 1404.00V1466.50" stroke-width="4.6"/>
<path d="M1606.08 1404.00h17.4M1606.08 1466.50h17.4" stroke-width="3.8"/>
<path d="M1706.62 1331.00V1376.50" stroke-width="4.6"/>
<path d="M1697.92 1331.00h17.4M1697.92 1376.50h17.4" stroke-width="3.8"/>
<path d="M1759.03 1223.80V1252.00" stroke-width="4.6"/>
<path d="M1750.33 1223.80h17.4M1750.33 1252.00h17.4" stroke-width="3.8"/>
<path d="M1811.43 1417.00V1444.00" stroke-width="4.6"/>
<path d="M1802.73 1417.00h17.4M1802.73 1444.00h17.4" stroke-width="3.8"/>
<path d="M1903.28 1201.80V1452.80" stroke-width="4.6"/>
<path d="M1894.58 1201.80h17.4M1894.58 1452.80h17.4" stroke-width="3.8"/>
<path d="M1955.68 1048.80V1179.30" stroke-width="4.6"/>
<path d="M1946.98 1048.80h17.4M1946.98 1179.30h17.4" stroke-width="3.8"/>
<path d="M2008.08 1165.00V1311.50" stroke-width="4.6"/>
<path d="M1999.38 1165.00h17.4M1999.38 1311.50h17.4" stroke-width="3.8"/>
</g>
<g stroke="#000" stroke-width="2.90" fill="none">
<path d="M1267.50 936.00V1595.10"/>
<path d="M1253.90 1588.40H2055.55" stroke-width="2.10"/>
<path d="M1253.90 1469.97H1267.50" stroke-width="2.2"/>
<path d="M1253.90 1351.54H1267.50" stroke-width="2.2"/>
<path d="M1253.90 1233.11H1267.50" stroke-width="2.2"/>
<path d="M1253.90 1114.68H1267.50" stroke-width="2.2"/>
<path d="M1253.90 996.25H1267.50" stroke-width="2.2"/>
<path d="M1260.10 1529.19H1267.50" stroke-width="2.2"/>
<path d="M1260.10 1410.76H1267.50" stroke-width="2.2"/>
<path d="M1260.10 1292.33H1267.50" stroke-width="2.2"/>
<path d="M1260.10 1173.89H1267.50" stroke-width="2.2"/>
<path d="M1260.10 1055.47H1267.50" stroke-width="2.2"/>
<path d="M1260.10 937.04H1267.50" stroke-width="2.2"/>
<path d="M1365.83 1588.40V1600.50" stroke-width="3.5"/>
<path d="M1464.15 1588.40V1595.10" stroke-width="2.2"/>
<path d="M1562.47 1588.40V1600.50" stroke-width="3.5"/>
<path d="M1660.80 1588.40V1595.10" stroke-width="2.2"/>
<path d="M1759.12 1588.40V1600.50" stroke-width="3.5"/>
<path d="M1857.45 1588.40V1595.10" stroke-width="2.2"/>
<path d="M1955.78 1588.40V1600.50" stroke-width="3.5"/>
<path d="M2054.10 1588.40V1595.10" stroke-width="2.2"/>
</g>
<text font-size="45" text-anchor="end" letter-spacing="1.7" stroke="#000" stroke-width="0.55" transform="translate(1246.30,1605.30) scale(0.93,1)">0</text>
<text font-size="45" text-anchor="end" letter-spacing="1.7" stroke="#000" stroke-width="0.55" transform="translate(1246.30,1486.87) scale(0.93,1)">20</text>
<text font-size="45" text-anchor="end" letter-spacing="1.7" stroke="#000" stroke-width="0.55" transform="translate(1246.30,1368.44) scale(0.93,1)">40</text>
<text font-size="45" text-anchor="end" letter-spacing="1.7" stroke="#000" stroke-width="0.55" transform="translate(1246.30,1250.01) scale(0.93,1)">60</text>
<text font-size="45" text-anchor="end" letter-spacing="1.7" stroke="#000" stroke-width="0.55" transform="translate(1246.30,1131.58) scale(0.93,1)">80</text>
<text font-size="45" text-anchor="end" letter-spacing="1.7" stroke="#000" stroke-width="0.55" transform="translate(1246.30,1013.15) scale(0.93,1)">100</text>
<text font-size="44" text-anchor="middle" letter-spacing="1.7" stroke="#000" stroke-width="0.55" transform="translate(1365.62,1649.00) scale(0.93,1)">0h</text>
<text font-size="44" text-anchor="middle" letter-spacing="1.7" stroke="#000" stroke-width="0.55" transform="translate(1562.27,1649.00) scale(0.93,1)">12h</text>
<text font-size="44" text-anchor="middle" letter-spacing="1.7" stroke="#000" stroke-width="0.55" transform="translate(1758.92,1649.00) scale(0.93,1)">24h</text>
<text font-size="44" text-anchor="middle" letter-spacing="1.7" stroke="#000" stroke-width="0.55" transform="translate(1955.58,1649.00) scale(0.93,1)">36h</text>
<text transform="translate(1304.22,1454.30) scale(1.12,1)" font-size="44" text-anchor="middle" x="9.8" y="0">b</text>
<text transform="translate(1356.62,1311.10) scale(1.12,1)" font-size="44" text-anchor="middle" x="9.8" y="0">a</text>
<text transform="translate(1409.03,1309.80) scale(1.12,1)" font-size="44" text-anchor="middle" x="9.8" y="0">a</text>
<text transform="translate(1500.87,1362.30) scale(1.12,1)" font-size="44" text-anchor="middle" x="9.8" y="0">b</text>
<text transform="translate(1553.27,996.30) scale(1.12,1)" font-size="44" text-anchor="middle" x="9.8" y="0">a</text>
<text transform="translate(1605.67,1386.10) scale(1.12,1)" font-size="44" text-anchor="middle" x="9.8" y="0">b</text>
<text transform="translate(1697.52,1318.60) scale(1.12,1)" font-size="44" text-anchor="middle" x="9.8" y="0">b</text>
<text transform="translate(1749.92,1207.80) scale(1.12,1)" font-size="44" text-anchor="middle" x="9.8" y="0">a</text>
<text transform="translate(1802.33,1401.10) scale(1.12,1)" font-size="44" text-anchor="middle" x="9.8" y="0">c</text>
<text transform="translate(1894.17,1186.30) scale(1.12,1)" font-size="44" text-anchor="middle" x="9.8" y="0">b</text>
<text transform="translate(1946.58,1037.80) scale(1.12,1)" font-size="44" text-anchor="middle" x="9.8" y="0">a</text>
<text transform="translate(1992.98,1156.30) scale(1.12,1)" font-size="44" text-anchor="middle" x="9.4 28.1" y="0">ab</text>
<text font-size="50" x="1288.00" y="927.00" textLength="24.3" lengthAdjust="spacingAndGlyphs" stroke="#000" stroke-width="0.8">D</text>
<text transform="translate(1131.30,1557.70) rotate(-90) scale(1,1)" font-size="42.5" text-anchor="middle" x="11.0 33.0 55.0 77.0 99.0 121.0 143.0 165.0 187.0 209.0 231.0 253.0 275.0 297.0 319.0 341.0 363.0 385.0 407.0 429.0 451.0 473.0" y="0" stroke="#fff" stroke-width="0.3"><tspan font-size="44" textLength="20.2" lengthAdjust="spacingAndGlyphs" stroke="#000" stroke-width="0.90">G</tspan>lutathione peroxidase</text>
<text transform="translate(1180.80,1525.00) rotate(-90) scale(1,1)" font-size="42.5" text-anchor="middle" x="11.0 33.0 55.0 77.0 99.0 121.0 143.0 165.0 187.0 212.1 231.0 253.0 275.0 297.0 319.0 341.0 363.0 385.0 403.4" y="0" stroke="#fff" stroke-width="0.3">activity (<tspan font-size="44" textLength="20.2" lengthAdjust="spacingAndGlyphs" stroke="#000" stroke-width="0.90">U</tspan>/<tspan textLength="20.2" lengthAdjust="spacingAndGlyphs" stroke="#000" stroke-width="0.50">m</tspan>gprot)</text>
</g>
<g id="legend">
<rect x="825.9" y="4.90" width="80" height="39.4" fill="url(#Gg)" stroke="#262626" stroke-width="1.8"/>
<rect x="825.9" y="49.10" width="80" height="39.4" fill="url(#Gr)" stroke="#262626" stroke-width="1.8"/>
<rect x="825.9" y="93.50" width="80" height="39.4" fill="url(#Gb)" stroke="#262626" stroke-width="1.8"/>
<text transform="translate(926.00,37.20) scale(1.2,1)" font-size="38" text-anchor="middle" x="8.5 25.6 42.7 59.8 76.9 94.0 111.0 128.1" y="0"><tspan font-size="42.5" textLength="15.8" lengthAdjust="spacingAndGlyphs" stroke="#000" stroke-width="0.90">C</tspan><tspan font-size="42.5" textLength="15.8" lengthAdjust="spacingAndGlyphs" stroke="#000" stroke-width="0.90">G</tspan> group</text>
<text transform="translate(926.00,82.00) scale(1.2,1)" font-size="38" text-anchor="middle" x="8.5 25.6 42.7 59.8 76.9 94.0 111.0 128.1" y="0"><tspan font-size="42.5" textLength="15.8" lengthAdjust="spacingAndGlyphs" stroke="#000" stroke-width="0.90">L</tspan><tspan font-size="42.5" textLength="15.8" lengthAdjust="spacingAndGlyphs" stroke="#000" stroke-width="0.90">T</tspan> group</text>
<text transform="translate(926.00,127.50) scale(1.2,1)" font-size="38" text-anchor="middle" x="8.5 25.6 42.7 59.8 76.9 94.0 111.0 128.1 145.2" y="0"><tspan font-size="42.5" textLength="15.8" lengthAdjust="spacingAndGlyphs" stroke="#000" stroke-width="0.90">U</tspan><tspan font-size="42.5" textLength="15.8" lengthAdjust="spacingAndGlyphs" stroke="#000" stroke-width="0.90">L</tspan><tspan font-size="42.5" textLength="15.8" lengthAdjust="spacingAndGlyphs" stroke="#000" stroke-width="0.90">T</tspan> group</text>
</g>
</svg></body></html>
